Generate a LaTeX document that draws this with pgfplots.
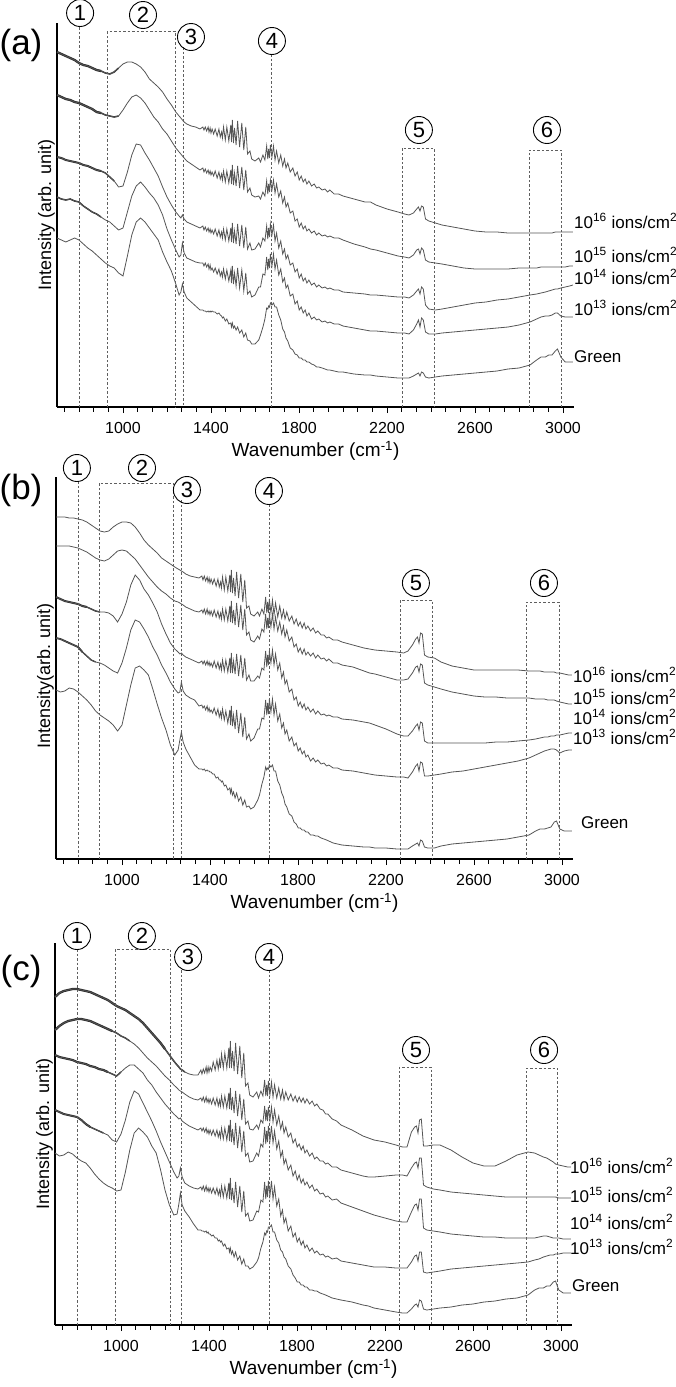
\documentclass[border=0pt]{standalone}
\usepackage{fontspec}
\setmainfont{Liberation Sans}
\usepackage{pgfplots}
\usepackage{pgfplotstable}
\pgfplotsset{compat=1.18}

\definecolor{spec}{RGB}{85,85,85}
\definecolor{specdark}{RGB}{45,45,45}
\definecolor{guidec}{RGB}{95,95,95}

% y values are minus the pixel row of the reference picture
\pgfplotstableread{
wn s16 s15 s14 s13 g
700 -52 -95 -157 -197 -238
720 -54 -97 -158 -199 -240
740 -56 -99 -160 -200 -242
760 -58 -100 -161 -199 -240
780 -60 -102 -162 -201 -238
800 -63 -103 -163 -202 -240
820 -65 -105 -165 -206 -244
840 -66 -107 -166 -209 -248
860 -68 -109 -168 -212 -251
880 -70 -112 -170 -214 -255
900 -71 -113 -171 -217 -259
920 -73 -115 -173 -220 -263
940 -74 -116 -177 -222 -266
960 -72 -117 -181 -226 -268
980 -68 -116 -187 -230 -273
1000 -64 -110 -186 -228 -276
1020 -62 -103 -172 -212 -256
1040 -62 -97 -155 -196 -235
1060 -64 -95 -144 -186 -222
1080 -67 -98 -145 -182 -218
1100 -72 -103 -153 -187 -222
1120 -79 -110 -160 -193 -228
1140 -83 -117 -168 -198 -234
1160 -87 -122 -176 -205 -240
1180 -92 -129 -187 -215 -252
1200 -99 -134 -197 -229 -262
1220 -105 -141 -205 -240 -271
1240 -112 -148 -212 -250 -284
1255 -116 -152 -216 -257 -295
1263 -118 -154 -218 -255 -292
1270 -120 -156 -215 -243 -284
1278 -122 -158 -219 -253 -292
1290 -124 -161 -222 -258 -298
1310 -126 -164 -224 -260 -302
1330 -127 -167 -226 -262 -306
1350 -129 -170 -228 -263 -310
1363 -127 -168 -226 -263 -310
1368 -130 -172 -230 -266 -311
1374 -127 -169 -227 -263 -311
1380 -131 -173 -231 -267 -312
1387 -127 -170 -228 -264 -311
1391 -132 -174 -232 -269 -312
1396 -128 -171 -229 -265 -311
1400 -133 -175 -233 -270 -312
1405 -129 -172 -230 -268 -311
1412 -134 -176 -234 -272 -312
1419 -129 -171 -229 -268 -312
1428 -136 -178 -236 -274 -314
1436 -129 -172 -230 -269 -313
1442 -137 -179 -237 -276 -315
1448 -132 -174 -232 -272 -316
1452 -138 -180 -238 -277 -318
1457 -127 -171 -229 -269 -317
1465 -140 -182 -240 -279 -321
1472 -127 -171 -229 -270 -319
1481 -141 -183 -241 -281 -324
1490 -125 -170 -228 -270 -323
1493 -142 -184 -242 -283 -327
1497 -120 -165 -223 -266 -323
1502 -143 -185 -243 -284 -328
1507 -128 -173 -231 -273 -326
1514 -145 -186 -244 -286 -330
1521 -121 -166 -224 -268 -327
1530 -147 -188 -246 -288 -333
1540 -123 -167 -225 -270 -330
1549 -150 -190 -248 -291 -337
1558 -127 -170 -227 -273 -333
1566 -154 -192 -249 -294 -340
1577 -151 -188 -243 -291 -341
1585 -159 -195 -250 -297 -344
1600 -161 -197 -249 -295 -344
1617 -158 -196 -243 -287 -340
1625 -162 -199 -247 -287 -335
1636 -155 -192 -238 -274 -327
1645 -160 -196 -241 -275 -319
1653 -146 -181 -226 -257 -308
1658 -159 -194 -239 -270 -309
1662 -149 -184 -228 -259 -306
1666 -158 -192 -237 -268 -307
1670 -145 -180 -224 -254 -303
1677 -157 -190 -235 -266 -305
1684 -146 -180 -225 -254 -303
1691 -160 -193 -241 -269 -307
1698 -151 -184 -233 -260 -307
1708 -163 -197 -248 -275 -315
1717 -155 -191 -241 -269 -320
1726 -166 -203 -254 -282 -329
1734 -159 -197 -249 -278 -332
1741 -168 -207 -259 -288 -338
1749 -163 -203 -255 -285 -341
1760 -172 -213 -265 -296 -348
1772 -168 -211 -263 -294 -350
1782 -176 -221 -272 -304 -354
1792 -172 -219 -269 -301 -355
1801 -180 -227 -278 -310 -358
1810 -176 -223 -274 -307 -358
1819 -182 -229 -281 -313 -360
1828 -179 -226 -278 -310 -360
1836 -184 -231 -283 -316 -362
1845 -181 -229 -280 -313 -362
1857 -186 -233 -285 -319 -364
1869 -184 -231 -283 -317 -365
1880 -188 -235 -287 -320 -367
1890 -187 -233 -285 -319 -367
1905 -190 -236 -288 -322 -368
1918 -189 -235 -287 -321 -369
1930 -192 -237 -289 -323 -370
1940 -190 -236 -288 -322 -370
1960 -194 -238 -290 -324 -371
1980 -194 -238 -290 -324 -372
2000 -196 -240 -292 -326 -372
2050 -199 -244 -293 -328 -374
2100 -202 -247 -294 -330 -375
2125 -202 -249 -295 -331 -375
2150 -205 -250 -295 -331 -376
2200 -209 -253 -296 -332 -377
2250 -212 -256 -297 -333 -378
2280 -214 -257 -297 -333 -378
2300 -215 -258 -298 -334 -378
2320 -213 -255 -295 -330 -376
2335 -209 -250 -291 -324 -374
2343 -207 -249 -289 -320 -373
2350 -211 -254 -294 -327 -376
2357 -206 -248 -287 -318 -372
2365 -207 -250 -289 -320 -373
2375 -219 -260 -305 -332 -377
2390 -221 -262 -309 -334 -378
2420 -223 -263 -310 -334 -377
2450 -225 -264 -309 -333 -376
2500 -227 -266 -307 -332 -375
2550 -229 -268 -305 -331 -374
2600 -231 -269 -303 -330 -373
2650 -232 -269 -302 -329 -372
2700 -232 -269 -300 -328 -371
2750 -233 -269 -299 -327 -369
2800 -233 -268 -297 -325 -368
2850 -233 -268 -295 -322 -365
2880 -233 -268 -294 -319 -360
2900 -233 -267 -293 -317 -357
2920 -233 -267 -292 -316 -357
2935 -233 -267 -291 -316 -355
2950 -233 -267 -290 -315 -355
2965 -232 -267 -289 -313 -351
2975 -232 -267 -289 -313 -349
2990 -232 -267 -288 -316 -357
3010 -232 -267 -287 -317 -362
3030 -232 -266 -286 -317 -362
3045 -232 -266 -285 -317 -362
}\tabA

\pgfplotstableread{
wn s16 s15 s14 s13 g
700 -517 -546 -597 -638 -690
720 -517 -546 -599 -639 -692
740 -517 -546 -601 -641 -691
760 -518 -546 -602 -643 -688
780 -518 -547 -603 -645 -689
800 -519 -548 -604 -647 -692
820 -520 -550 -606 -652 -696
840 -522 -552 -607 -656 -700
860 -525 -555 -609 -660 -705
880 -528 -558 -611 -662 -711
900 -531 -560 -612 -663 -715
920 -532 -561 -612 -665 -718
940 -531 -559 -613 -668 -721
960 -527 -555 -616 -671 -725
980 -524 -551 -622 -673 -731
1000 -522 -550 -614 -663 -725
1020 -522 -551 -602 -648 -705
1040 -523 -555 -585 -630 -685
1060 -527 -559 -575 -620 -668
1080 -533 -565 -580 -622 -666
1100 -540 -571 -589 -629 -670
1120 -545 -577 -595 -637 -675
1140 -549 -582 -603 -647 -689
1160 -553 -587 -612 -655 -704
1180 -558 -591 -624 -665 -718
1200 -561 -594 -634 -673 -730
1220 -564 -598 -643 -682 -745
1240 -567 -601 -649 -689 -755
1255 -569 -602 -652 -693 -750
1263 -570 -603 -654 -692 -740
1270 -571 -604 -653 -682 -732
1278 -572 -605 -655 -691 -742
1290 -574 -607 -657 -695 -749
1310 -576 -609 -659 -698 -757
1330 -577 -611 -661 -700 -765
1350 -578 -612 -663 -706 -769
1363 -576 -610 -661 -705 -769
1368 -580 -613 -664 -708 -770
1374 -576 -609 -661 -706 -769
1380 -581 -614 -665 -710 -771
1387 -577 -609 -661 -706 -770
1391 -582 -614 -665 -711 -771
1396 -578 -611 -662 -708 -771
1400 -583 -615 -666 -712 -772
1405 -579 -611 -663 -710 -772
1412 -584 -616 -667 -713 -774
1419 -579 -610 -661 -708 -774
1428 -586 -617 -668 -715 -778
1436 -579 -611 -662 -709 -777
1442 -587 -618 -669 -717 -780
1448 -582 -613 -664 -712 -780
1452 -588 -619 -670 -718 -782
1457 -577 -609 -660 -709 -781
1465 -590 -620 -671 -720 -786
1472 -577 -609 -660 -711 -785
1481 -591 -621 -672 -723 -790
1490 -575 -606 -658 -710 -788
1493 -592 -622 -673 -725 -793
1497 -570 -601 -653 -706 -789
1502 -593 -623 -673 -726 -795
1507 -578 -610 -661 -715 -792
1514 -596 -625 -674 -729 -798
1521 -572 -603 -654 -710 -793
1530 -598 -627 -676 -733 -801
1540 -574 -605 -655 -713 -797
1549 -602 -630 -678 -737 -805
1558 -580 -609 -658 -717 -800
1566 -608 -635 -680 -739 -807
1577 -606 -632 -675 -734 -806
1585 -614 -640 -681 -741 -809
1600 -616 -642 -681 -738 -807
1617 -612 -636 -676 -729 -800
1625 -616 -639 -678 -729 -795
1636 -609 -629 -668 -718 -784
1645 -614 -632 -670 -719 -777
1653 -597 -614 -651 -700 -767
1658 -613 -629 -667 -715 -770
1662 -602 -618 -655 -703 -768
1666 -613 -628 -665 -714 -769
1670 -599 -614 -651 -699 -765
1677 -613 -627 -663 -712 -767
1684 -600 -614 -650 -699 -765
1691 -615 -629 -665 -715 -771
1698 -603 -617 -654 -704 -771
1708 -617 -631 -670 -721 -781
1717 -606 -622 -663 -714 -785
1726 -618 -634 -678 -728 -793
1734 -610 -626 -672 -723 -797
1741 -619 -637 -684 -734 -804
1749 -612 -630 -680 -730 -807
1760 -621 -641 -692 -741 -814
1772 -616 -637 -689 -737 -816
1782 -624 -647 -700 -746 -822
1792 -619 -644 -697 -743 -824
1801 -626 -652 -706 -751 -828
1810 -622 -648 -702 -748 -828
1819 -628 -654 -708 -754 -830
1828 -623 -649 -704 -751 -830
1836 -629 -655 -710 -757 -832
1845 -626 -652 -707 -755 -832
1857 -631 -656 -712 -761 -835
1869 -628 -653 -709 -758 -835
1880 -633 -658 -714 -762 -836
1890 -631 -655 -711 -760 -836
1905 -635 -659 -715 -764 -838
1918 -635 -658 -714 -763 -839
1930 -638 -661 -716 -766 -840
1940 -637 -659 -715 -765 -841
1960 -640 -663 -717 -768 -843
1980 -640 -663 -717 -768 -844
2000 -642 -665 -719 -770 -845
2050 -645 -667 -720 -771 -846
2100 -648 -671 -722 -773 -847
2125 -649 -673 -723 -774 -847
2150 -650 -674 -725 -775 -848
2200 -651 -677 -729 -776 -848
2250 -652 -680 -734 -777 -849
2280 -653 -680 -736 -777 -849
2300 -651 -679 -736 -778 -849
2320 -645 -673 -731 -772 -846
2335 -639 -667 -726 -766 -844
2343 -637 -666 -724 -764 -843
2350 -643 -672 -730 -771 -846
2357 -633 -664 -722 -762 -840
2365 -634 -665 -723 -763 -841
2375 -655 -683 -741 -776 -847
2390 -657 -685 -743 -776 -848
2420 -658 -687 -743 -775 -848
2450 -662 -689 -743 -774 -846
2500 -666 -692 -743 -772 -844
2550 -668 -694 -743 -771 -843
2600 -670 -696 -743 -769 -842
2650 -670 -697 -743 -767 -841
2700 -670 -697 -742 -765 -840
2750 -670 -698 -742 -763 -839
2800 -670 -698 -741 -761 -837
2850 -671 -698 -740 -758 -835
2880 -671 -699 -739 -755 -831
2900 -671 -699 -738 -753 -829
2920 -672 -699 -737 -751 -829
2935 -672 -700 -737 -750 -828
2950 -672 -700 -736 -749 -827
2965 -672 -700 -736 -749 -822
2975 -673 -701 -735 -750 -821
2990 -673 -702 -735 -753 -829
3010 -674 -703 -734 -751 -831
3030 -675 -704 -733 -750 -831
3045 -675 -704 -733 -750 -831
}\tabB

\pgfplotstableread{
wn s16 s15 s14 s13 g
700 -997 -1030 -1055 -1110 -1153
720 -993 -1026 -1057 -1112 -1156
740 -991 -1023 -1058 -1114 -1155
760 -990 -1021 -1059 -1115 -1152
780 -989 -1020 -1060 -1116 -1154
800 -989 -1019 -1062 -1117 -1158
820 -990 -1019 -1063 -1120 -1161
840 -991 -1020 -1064 -1124 -1163
860 -992 -1021 -1066 -1127 -1168
880 -994 -1023 -1067 -1129 -1174
900 -996 -1025 -1069 -1131 -1179
920 -998 -1027 -1070 -1133 -1183
940 -1000 -1029 -1072 -1135 -1186
960 -1003 -1031 -1074 -1140 -1188
980 -1006 -1033 -1076 -1142 -1191
1000 -1008 -1036 -1072 -1134 -1190
1020 -1010 -1038 -1068 -1120 -1172
1040 -1013 -1041 -1065 -1102 -1150
1060 -1016 -1044 -1065 -1091 -1133
1080 -1019 -1048 -1069 -1094 -1128
1100 -1023 -1053 -1073 -1103 -1132
1120 -1028 -1058 -1080 -1112 -1137
1140 -1033 -1062 -1085 -1121 -1146
1160 -1038 -1066 -1092 -1131 -1153
1180 -1043 -1071 -1098 -1142 -1170
1200 -1049 -1076 -1104 -1152 -1190
1220 -1055 -1080 -1109 -1162 -1205
1240 -1061 -1085 -1114 -1172 -1215
1255 -1065 -1088 -1117 -1178 -1214
1263 -1067 -1090 -1119 -1176 -1204
1270 -1069 -1091 -1118 -1168 -1193
1278 -1070 -1092 -1121 -1177 -1205
1290 -1072 -1094 -1123 -1183 -1211
1310 -1074 -1097 -1126 -1186 -1217
1330 -1075 -1099 -1128 -1188 -1224
1350 -1075 -1100 -1130 -1189 -1230
1363 -1070 -1098 -1128 -1187 -1230
1368 -1074 -1101 -1131 -1190 -1231
1374 -1069 -1097 -1128 -1186 -1231
1380 -1073 -1102 -1132 -1191 -1232
1387 -1067 -1097 -1128 -1186 -1231
1391 -1073 -1102 -1133 -1191 -1233
1396 -1067 -1099 -1130 -1188 -1232
1400 -1072 -1103 -1134 -1192 -1234
1405 -1067 -1099 -1130 -1188 -1234
1412 -1071 -1104 -1135 -1193 -1236
1419 -1062 -1098 -1130 -1188 -1235
1428 -1070 -1105 -1136 -1194 -1238
1436 -1060 -1098 -1130 -1188 -1238
1442 -1069 -1106 -1137 -1195 -1241
1448 -1060 -1100 -1132 -1190 -1240
1452 -1068 -1106 -1138 -1196 -1242
1457 -1054 -1096 -1128 -1186 -1241
1465 -1068 -1107 -1139 -1197 -1246
1472 -1053 -1096 -1128 -1186 -1244
1481 -1068 -1108 -1140 -1198 -1249
1490 -1048 -1093 -1125 -1183 -1248
1493 -1068 -1109 -1141 -1199 -1252
1497 -1041 -1088 -1120 -1178 -1248
1502 -1068 -1110 -1142 -1200 -1254
1507 -1051 -1097 -1129 -1188 -1251
1514 -1071 -1113 -1145 -1203 -1257
1521 -1043 -1091 -1123 -1182 -1252
1530 -1074 -1116 -1148 -1207 -1260
1540 -1046 -1094 -1126 -1186 -1256
1549 -1078 -1120 -1152 -1212 -1264
1558 -1053 -1099 -1131 -1191 -1259
1566 -1086 -1124 -1156 -1216 -1266
1577 -1083 -1121 -1153 -1213 -1266
1585 -1095 -1129 -1162 -1221 -1269
1600 -1097 -1130 -1161 -1220 -1267
1617 -1092 -1125 -1153 -1211 -1262
1625 -1098 -1129 -1156 -1212 -1258
1636 -1091 -1120 -1144 -1200 -1248
1645 -1096 -1123 -1147 -1202 -1242
1653 -1080 -1106 -1127 -1182 -1233
1658 -1096 -1121 -1144 -1199 -1235
1662 -1085 -1110 -1131 -1186 -1231
1666 -1096 -1121 -1142 -1197 -1232
1670 -1081 -1107 -1126 -1181 -1227
1677 -1095 -1120 -1141 -1196 -1227
1684 -1082 -1107 -1126 -1181 -1225
1691 -1097 -1122 -1143 -1199 -1232
1698 -1085 -1110 -1131 -1187 -1232
1708 -1098 -1125 -1149 -1206 -1240
1717 -1088 -1116 -1141 -1199 -1243
1726 -1099 -1129 -1157 -1216 -1250
1734 -1090 -1122 -1151 -1210 -1252
1741 -1100 -1133 -1164 -1223 -1257
1749 -1092 -1127 -1159 -1218 -1259
1760 -1100 -1137 -1170 -1231 -1266
1772 -1094 -1133 -1165 -1226 -1269
1782 -1101 -1143 -1176 -1237 -1275
1792 -1096 -1139 -1171 -1233 -1278
1801 -1102 -1147 -1180 -1242 -1282
1810 -1097 -1144 -1175 -1238 -1282
1819 -1102 -1150 -1183 -1245 -1285
1828 -1098 -1146 -1179 -1241 -1285
1836 -1103 -1153 -1185 -1248 -1287
1845 -1099 -1150 -1182 -1245 -1287
1857 -1104 -1156 -1188 -1251 -1290
1869 -1101 -1153 -1185 -1248 -1290
1880 -1106 -1159 -1191 -1253 -1291
1890 -1104 -1157 -1189 -1251 -1291
1905 -1109 -1161 -1194 -1255 -1293
1918 -1110 -1161 -1193 -1254 -1294
1930 -1114 -1164 -1197 -1257 -1295
1940 -1114 -1163 -1196 -1256 -1296
1960 -1119 -1167 -1200 -1259 -1298
1980 -1121 -1167 -1199 -1258 -1299
2000 -1125 -1170 -1203 -1261 -1300
2050 -1130 -1173 -1207 -1263 -1302
2100 -1136 -1176 -1211 -1265 -1305
2125 -1138 -1177 -1213 -1266 -1306
2150 -1140 -1177 -1215 -1267 -1308
2200 -1142 -1176 -1218 -1267 -1310
2250 -1145 -1175 -1221 -1268 -1312
2280 -1147 -1175 -1222 -1268 -1313
2300 -1147 -1176 -1222 -1268 -1313
2320 -1132 -1168 -1212 -1262 -1309
2335 -1127 -1163 -1205 -1256 -1305
2343 -1126 -1162 -1204 -1255 -1304
2350 -1133 -1168 -1210 -1261 -1307
2357 -1120 -1158 -1199 -1252 -1300
2365 -1119 -1158 -1199 -1252 -1301
2375 -1146 -1185 -1228 -1272 -1309
2390 -1146 -1187 -1230 -1273 -1310
2420 -1145 -1189 -1231 -1272 -1309
2450 -1145 -1190 -1232 -1271 -1308
2500 -1150 -1192 -1234 -1269 -1307
2550 -1157 -1193 -1235 -1268 -1305
2600 -1163 -1194 -1236 -1267 -1304
2650 -1166 -1195 -1237 -1266 -1302
2700 -1166 -1196 -1237 -1265 -1301
2750 -1161 -1197 -1238 -1264 -1299
2800 -1155 -1197 -1238 -1263 -1298
2850 -1152 -1197 -1238 -1262 -1295
2880 -1153 -1197 -1238 -1260 -1290
2900 -1155 -1197 -1237 -1259 -1288
2920 -1157 -1197 -1236 -1257 -1288
2935 -1158 -1197 -1236 -1256 -1286
2950 -1160 -1197 -1237 -1255 -1286
2965 -1162 -1197 -1238 -1255 -1282
2975 -1164 -1197 -1238 -1254 -1281
2990 -1165 -1198 -1238 -1254 -1290
3010 -1166 -1198 -1239 -1253 -1293
3030 -1167 -1198 -1239 -1253 -1293
3045 -1167 -1198 -1239 -1253 -1293
}\tabC

\pgfplotsset{
  ftir/.style={
    scale only axis, width=517pt, anchor=south west, clip=false,
    xmin=700, xmax=3050,
    axis x line=bottom, axis y line=left,
    axis line style={-, line width=1.3pt, black},
    xtick={1000,1400,...,3000},
    minor xtick={733.3,800,866.7,933.3,1066.7,1133.3,1200,1266.7,1333.3,1466.7,1533.3,1600,1666.7,1733.3,1866.7,1933.3,2000,2066.7,2133.3,2266.7,2333.3,2400,2466.7,2533.3,2666.7,2733.3,2800,2866.7,2933.3},
    ytick=\empty,
    tick align=outside,
    major tick length=6pt, minor tick length=4.5pt,
    tick style={line width=1pt, black},
    x tick label style={font=\fontsize{16}{16}\selectfont, anchor=center, yshift=-15pt},
    /pgf/number format/1000 sep={},
    /pgf/number format/assume math mode=true,
    xlabel={Wavenumber (cm\textsuperscript{-1})},
    xlabel style={at={(axis description cs:0.5,0)}, anchor=center, yshift=-44pt, font=\fontsize{19}{19}\selectfont},
    ylabel style={at={(axis description cs:0,0.5)}, anchor=south, inner sep=2pt, font=\fontsize{18}{18}\selectfont},
  },
  sp/.style={spec, line width=0.8pt},
  thk/.style={specdark, line width=#1},
}

\begin{document}
\begin{tikzpicture}[
  circ/.style={circle, draw=black, line width=0.9pt, minimum size=27pt, inner sep=0pt, font=\fontsize{22}{22}\selectfont},
  guide/.style={guidec, line width=0.7pt, dash pattern=on 2.5pt off 2pt},
  lab/.style={anchor=west, inner sep=0pt, font=\fontsize{17}{17}\selectfont},
  panel/.style={font=\fontsize{35}{35}\selectfont}
]
\useasboundingbox (0,0) rectangle (675pt,-1387pt);

\node[panel] at (21pt,-45pt) {(a)};
\node[panel] at (21pt,-490pt) {(b)};
\node[panel] at (21pt,-971pt) {(c)};

% ---------------- (a)
\begin{axis}[ftir, at={(57pt,-407pt)}, height=384pt, ymin=-407, ymax=-23,
  ylabel={Intensity (arb. unit)}]
\addplot[thk=2.3pt, restrict x to domain=700:900] table[x=wn,y=s16] {\tabA};
\addplot[thk=1.5pt, restrict x to domain=880:980] table[x=wn,y=s16] {\tabA};
\addplot[thk=2.3pt, restrict x to domain=700:900] table[x=wn,y=s15] {\tabA};
\addplot[thk=1.5pt, restrict x to domain=880:980] table[x=wn,y=s15] {\tabA};
\addplot[thk=2pt, restrict x to domain=700:900] table[x=wn,y=s14] {\tabA};
\addplot[thk=1.4pt, restrict x to domain=880:960] table[x=wn,y=s14] {\tabA};
\addplot[thk=1.5pt, restrict x to domain=700:900] table[x=wn,y=s13] {\tabA};
\addplot[sp] table[x=wn,y=s16] {\tabA};
\addplot[sp] table[x=wn,y=s15] {\tabA};
\addplot[sp] table[x=wn,y=s14] {\tabA};
\addplot[sp] table[x=wn,y=s13] {\tabA};
\addplot[sp] table[x=wn,y=g] {\tabA};
\draw[guide] (axis cs:800,-27) -- (axis cs:800,-407);
\draw[guide] (axis cs:930,-407) -- (axis cs:930,-31) -- (axis cs:1236,-31) -- (axis cs:1236,-407);
\draw[guide] (axis cs:1273,-47) -- (axis cs:1273,-407);
\draw[guide] (axis cs:1673,-54) -- (axis cs:1673,-407);
\draw[guide] (axis cs:2268,-407) -- (axis cs:2268,-148) -- (axis cs:2414,-148) -- (axis cs:2414,-407);
\draw[guide] (axis cs:2845,-407) -- (axis cs:2845,-150) -- (axis cs:2991,-150) -- (axis cs:2991,-407);
\node[circ] at (axis cs:805,-13) {1};
\node[circ] at (axis cs:1091,-15) {2};
\node[circ] at (axis cs:1309,-37) {3};
\node[circ] at (axis cs:1677,-41) {4};
\node[circ] at (axis cs:2345,-130) {5};
\node[circ] at (axis cs:2927,-130) {6};
\node[lab] at (axis cs:3050,-221) {10\textsuperscript{16} ions/cm\textsuperscript{2}};
\node[lab] at (axis cs:3050,-255) {10\textsuperscript{15} ions/cm\textsuperscript{2}};
\node[lab] at (axis cs:3050,-277) {10\textsuperscript{14} ions/cm\textsuperscript{2}};
\node[lab] at (axis cs:3050,-308) {10\textsuperscript{13} ions/cm\textsuperscript{2}};
\node[lab] at (axis cs:3050,-357) {Green};
\end{axis}

% ---------------- (b)
\begin{axis}[ftir, at={(56pt,-859pt)}, height=382pt, ymin=-859, ymax=-477,
  ylabel={Intensity(arb. unit)}, ylabel style={at={(axis description cs:0,0.479)}}]
\addplot[thk=2pt, restrict x to domain=700:840] table[x=wn,y=s14] {\tabB};
\addplot[thk=1.4pt, restrict x to domain=820:900] table[x=wn,y=s14] {\tabB};
\addplot[thk=1.8pt, restrict x to domain=700:820] table[x=wn,y=s13] {\tabB};
\addplot[thk=1.3pt, restrict x to domain=800:880] table[x=wn,y=s13] {\tabB};
\addplot[sp] table[x=wn,y=s16] {\tabB};
\addplot[sp] table[x=wn,y=s15] {\tabB};
\addplot[sp] table[x=wn,y=s14] {\tabB};
\addplot[sp] table[x=wn,y=s13] {\tabB};
\addplot[sp] table[x=wn,y=g] {\tabB};
\draw[guide] (axis cs:800,-481) -- (axis cs:800,-859);
\draw[guide] (axis cs:895,-859) -- (axis cs:895,-483) -- (axis cs:1232,-483) -- (axis cs:1232,-859);
\draw[guide] (axis cs:1268,-500) -- (axis cs:1268,-859);
\draw[guide] (axis cs:1668,-504) -- (axis cs:1668,-859);
\draw[guide] (axis cs:2264,-859) -- (axis cs:2264,-600) -- (axis cs:2409,-600) -- (axis cs:2409,-859);
\draw[guide] (axis cs:2836,-859) -- (axis cs:2836,-602) -- (axis cs:2986,-602) -- (axis cs:2986,-859);
\node[circ] at (axis cs:795,-468) {1};
\node[circ] at (axis cs:1091,-468) {2};
\node[circ] at (axis cs:1295,-490) {3};
\node[circ] at (axis cs:1668,-491) {4};
\node[circ] at (axis cs:2336,-583) {5};
\node[circ] at (axis cs:2918,-583) {6};
\node[lab] at (axis cs:3050,-675) {10\textsuperscript{16} ions/cm\textsuperscript{2}};
\node[lab] at (axis cs:3050,-697) {10\textsuperscript{15} ions/cm\textsuperscript{2}};
\node[lab] at (axis cs:3050,-717) {10\textsuperscript{14} ions/cm\textsuperscript{2}};
\node[lab] at (axis cs:3050,-737) {10\textsuperscript{13} ions/cm\textsuperscript{2}};
\node[lab, xshift=8pt] at (axis cs:3050,-823) {Green};
\end{axis}

% ---------------- (c)
\begin{axis}[ftir, at={(55pt,-1325pt)}, height=382pt, ymin=-1325, ymax=-943,
  ylabel={Intensity (arb. unit)}]
\addplot[thk=2.3pt, restrict x to domain=700:1200] table[x=wn,y=s16] {\tabC};
\addplot[thk=1.5pt, restrict x to domain=1180:1290] table[x=wn,y=s16] {\tabC};
\addplot[thk=2.3pt, restrict x to domain=700:960] table[x=wn,y=s15] {\tabC};
\addplot[thk=1.4pt, restrict x to domain=940:1040] table[x=wn,y=s15] {\tabC};
\addplot[thk=2.2pt, restrict x to domain=700:940] table[x=wn,y=s14] {\tabC};
\addplot[thk=1.4pt, restrict x to domain=920:1000] table[x=wn,y=s14] {\tabC};
\addplot[thk=2pt, restrict x to domain=700:860] table[x=wn,y=s13] {\tabC};
\addplot[thk=1.4pt, restrict x to domain=840:920] table[x=wn,y=s13] {\tabC};
\addplot[sp] table[x=wn,y=s16] {\tabC};
\addplot[sp] table[x=wn,y=s15] {\tabC};
\addplot[sp] table[x=wn,y=s14] {\tabC};
\addplot[sp] table[x=wn,y=s13] {\tabC};
\addplot[sp] table[x=wn,y=g] {\tabC};
\draw[guide] (axis cs:800,-949) -- (axis cs:800,-1325);
\draw[guide] (axis cs:973,-1325) -- (axis cs:973,-949) -- (axis cs:1225,-949) -- (axis cs:1225,-1325);
\draw[guide] (axis cs:1273,-970) -- (axis cs:1273,-1325);
\draw[guide] (axis cs:1673,-970) -- (axis cs:1673,-1325);
\draw[guide] (axis cs:2264,-1325) -- (axis cs:2264,-1067) -- (axis cs:2409,-1067) -- (axis cs:2409,-1325);
\draw[guide] (axis cs:2841,-1325) -- (axis cs:2841,-1068) -- (axis cs:2982,-1068) -- (axis cs:2982,-1325);
\node[circ] at (axis cs:800,-936) {1};
\node[circ] at (axis cs:1095,-936) {2};
\node[circ] at (axis cs:1305,-957) {3};
\node[circ] at (axis cs:1673,-957) {4};
\node[circ] at (axis cs:2341,-1050) {5};
\node[circ] at (axis cs:2923,-1050) {6};
\node[lab, xshift=-2pt] at (axis cs:3050,-1166) {10\textsuperscript{16} ions/cm\textsuperscript{2}};
\node[lab, xshift=-2pt] at (axis cs:3050,-1195) {10\textsuperscript{15} ions/cm\textsuperscript{2}};
\node[lab, xshift=-2pt] at (axis cs:3050,-1222) {10\textsuperscript{14} ions/cm\textsuperscript{2}};
\node[lab, xshift=-2pt] at (axis cs:3050,-1247) {10\textsuperscript{13} ions/cm\textsuperscript{2}};
\node[lab] at (axis cs:3050,-1286) {Green};
\end{axis}
\end{tikzpicture}
\end{document}
